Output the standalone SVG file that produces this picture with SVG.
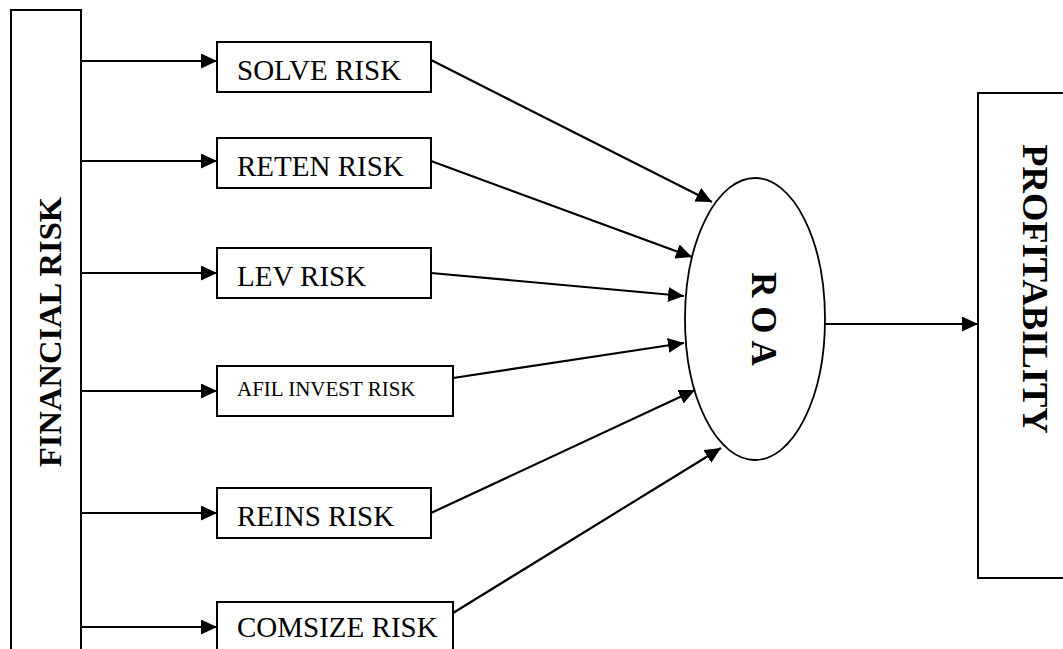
<svg xmlns="http://www.w3.org/2000/svg" width="1063" height="649" viewBox="0 0 1063 649">
<style>
.box{fill:#fff;stroke:#000;stroke-width:2}
.lbl{font-family:"Liberation Serif","Times New Roman",serif;font-size:29px;fill:#000}
.sm{font-size:21px}
.bold{font-family:"Liberation Serif","Times New Roman",serif;font-weight:bold;fill:#000}
.conn{stroke:#000;stroke-width:2.2;fill:none;marker-end:url(#ah)}
</style>
<defs>
<marker id="ah" markerUnits="userSpaceOnUse" markerWidth="17" markerHeight="15" refX="16" refY="7.5" orient="auto">
<path d="M0,0 L16,7.5 L0,15 z" fill="#000"/>
</marker>
</defs>
<rect width="1063" height="649" fill="#fff"/>
<g id="financial-risk">
<rect class="box" x="11" y="10" width="70" height="700"/>
<text class="bold" font-size="32.5" text-anchor="middle" transform="translate(61,332) rotate(-90)">FINANCIAL RISK</text>
</g>
<g id="solve-risk">
<rect class="box" x="217" y="42" width="214" height="50"/>
<text class="lbl" x="237" y="80">SOLVE RISK</text>
</g>
<g id="reten-risk">
<rect class="box" x="217" y="138" width="214" height="50"/>
<text class="lbl" x="237" y="176">RETEN RISK</text>
</g>
<g id="lev-risk">
<rect class="box" x="217" y="248" width="214" height="50"/>
<text class="lbl" x="237" y="286">LEV RISK</text>
</g>
<g id="afil-invest-risk">
<rect class="box" x="217" y="366" width="236" height="50"/>
<text class="lbl sm" x="237" y="396">AFIL INVEST RISK</text>
</g>
<g id="reins-risk">
<rect class="box" x="217" y="488" width="214" height="50"/>
<text class="lbl" x="237" y="526">REINS RISK</text>
</g>
<g id="comsize-risk">
<rect class="box" x="217" y="602" width="236" height="80"/>
<text class="lbl" x="237" y="637">COMSIZE RISK</text>
</g>
<g id="roa">
<ellipse cx="755" cy="319" rx="70" ry="141" fill="#fff" stroke="#000" stroke-width="1.8"/>
<text class="bold" font-size="35" text-anchor="middle" transform="translate(752,319) rotate(90)">R O A</text>
</g>
<g id="profitability">
<rect class="box" x="978" y="93" width="100" height="485"/>
<text class="bold" font-size="36.5" text-anchor="middle" transform="translate(1023,289) rotate(90)">PROFITABILITY</text>
</g>
<g id="connectors">
<line class="conn" x1="81" y1="61" x2="217" y2="61"/>
<line class="conn" x1="81" y1="161" x2="217" y2="161"/>
<line class="conn" x1="81" y1="273" x2="217" y2="273"/>
<line class="conn" x1="81" y1="391" x2="217" y2="391"/>
<line class="conn" x1="81" y1="513" x2="217" y2="513"/>
<line class="conn" x1="81" y1="627" x2="217" y2="627"/>
<line class="conn" x1="431" y1="60" x2="712" y2="202"/>
<line class="conn" x1="431" y1="161" x2="692" y2="257"/>
<line class="conn" x1="431" y1="273" x2="684" y2="296"/>
<line class="conn" x1="453" y1="378" x2="684" y2="343"/>
<line class="conn" x1="431" y1="513" x2="695" y2="390"/>
<line class="conn" x1="453" y1="613" x2="721" y2="448"/>
<line class="conn" x1="825" y1="324" x2="978" y2="324"/>
</g>
</svg>
